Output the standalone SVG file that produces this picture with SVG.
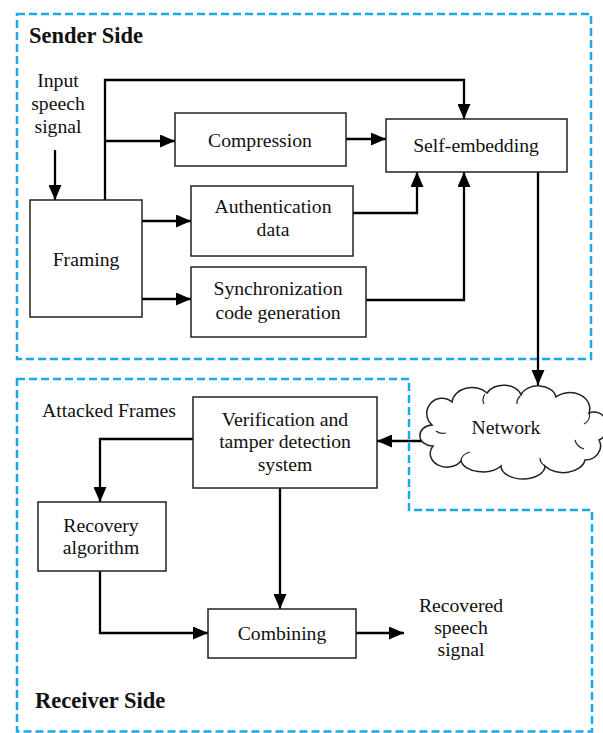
<svg xmlns="http://www.w3.org/2000/svg" width="603" height="733" viewBox="0 0 603 733">
<defs>
<marker id="ah" viewBox="0 0 15 13" refX="15" refY="6.5" markerWidth="15" markerHeight="13" markerUnits="userSpaceOnUse" orient="auto">
<path d="M0,0 L15,6.5 L0,13 z" fill="#000"/>
</marker>
</defs>
<style>
.bg{fill:#fff}
.box{fill:#fff;stroke:#222;stroke-width:1.5}
.dash{fill:none;stroke:#1aa8e8;stroke-width:2.5;stroke-dasharray:8,4}
.t{font-family:"Liberation Serif","Times New Roman",serif;font-size:19.7px;fill:#111;text-anchor:middle}
.l{text-anchor:start}
.b{font-family:"Liberation Serif","Times New Roman",serif;font-size:22.5px;font-weight:bold;fill:#111}
.c{fill:none;stroke:#000;stroke-width:2.3}
.a{marker-end:url(#ah)}
</style>
<rect class="bg" x="0" y="0" width="603" height="733"/>
<g id="regions">
<rect class="dash" x="17" y="14" width="574" height="345"/>
<path class="dash" d="M17,379 L409,379 L409,510 L592,510 L592,731.5 L17,731.5 Z"/>
<text class="b" x="29" y="43">Sender Side</text>
<text class="b" x="35" y="708">Receiver Side</text>
</g>
<g id="connectors">
<path class="c a" d="M55,150 L55,200"/>
<path class="c a" d="M105,200 L105,80 L464,80 L464,119"/>
<path class="c a" d="M105,141 L175,141"/>
<path class="c a" d="M346,139 L386,139"/>
<path class="c a" d="M142,221 L191,221"/>
<path class="c a" d="M142,299 L191,299"/>
<path class="c a" d="M353,213 L417,213 L417,172"/>
<path class="c a" d="M366,300 L464,300 L464,172"/>
<path class="c a" d="M538,172 L538,385"/>
<path class="c a" d="M424,441 L377,441"/>
<path class="c a" d="M193,439 L100,439 L100,502"/>
<path class="c a" d="M280,488 L280,609"/>
<path class="c a" d="M100,571 L100,633 L208,633"/>
<path class="c a" d="M356,633 L404,633"/>
</g>
<g id="input-label">
<text class="t" x="58" y="87">Input</text>
<text class="t" x="58" y="110">speech</text>
<text class="t" x="58" y="133">signal</text>
</g>
<g id="framing">
<rect class="box" x="30" y="200" width="112" height="117"/>
<text class="t" x="86" y="266">Framing</text>
</g>
<g id="compression">
<rect class="box" x="175" y="113" width="171" height="53"/>
<text class="t" x="260" y="147">Compression</text>
</g>
<g id="self-embedding">
<rect class="box" x="386" y="119" width="181" height="53"/>
<text class="t" x="476" y="152">Self-embedding</text>
</g>
<g id="authentication">
<rect class="box" x="191" y="186" width="162" height="70"/>
<text class="t" x="273" y="213">Authentication</text>
<text class="t" x="273" y="236">data</text>
</g>
<g id="synchronization">
<rect class="box" x="191" y="267" width="175" height="70"/>
<text class="t" x="278" y="295">Synchronization</text>
<text class="t" x="278" y="319">code generation</text>
</g>
<g id="network">
<path fill="#fff" stroke="#222" stroke-width="1.5" d="M432,425 A14,14 0 0 1 452,402 A20,16 0 0 1 487,393 A18,13 0 0 1 521,395 A18,13 0 0 1 556,397 A20,16 0 0 1 589,413 A13,14 0 0 1 599,440 A16,14 0 0 1 585,460 A22,15 0 0 1 545,466 A22,13 0 0 1 501,466 A22,13 0 0 1 461,461 A16,13 0 0 1 433,446 A12,10 0 0 1 432,425 Z"/>
<path fill="none" stroke="#222" stroke-width="1.2" d="M436,431 A10,8 0 0 0 446,433 M485,394 A16,12 0 0 0 484,404 M520,396 A10,10 0 0 0 517,404 M589,413 A12,10 0 0 1 584,424 M584,449 A14,12 0 0 1 575,440 M545,466 A12,10 0 0 1 540,458 M461,461 A12,10 0 0 1 470,452"/>
<text class="t" x="506" y="434">Network</text>
</g>
<g id="verification">
<rect class="box" x="193" y="397" width="184" height="91"/>
<text class="t" x="285" y="426">Verification and</text>
<text class="t" x="285" y="448">tamper detection</text>
<text class="t" x="285" y="471">system</text>
</g>
<g id="attacked-label">
<text class="t l" x="42" y="417">Attacked Frames</text>
</g>
<g id="recovery">
<rect class="box" x="38" y="502" width="128" height="69"/>
<text class="t" x="101" y="532">Recovery</text>
<text class="t" x="101" y="554">algorithm</text>
</g>
<g id="combining">
<rect class="box" x="208" y="609" width="148" height="49"/>
<text class="t" x="282" y="640">Combining</text>
</g>
<g id="output-label">
<text class="t" x="461" y="612">Recovered</text>
<text class="t" x="461" y="634">speech</text>
<text class="t" x="461" y="656">signal</text>
</g>
</svg>
